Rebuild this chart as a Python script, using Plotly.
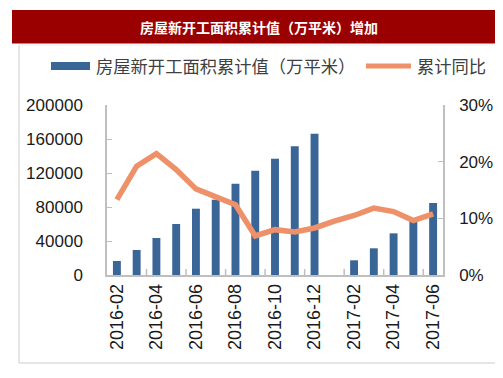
import plotly.graph_objects as go

months = ["2016-02", "2016-03", "2016-04", "2016-05", "2016-06", "2016-07", "2016-08",
          "2016-09", "2016-10", "2016-11", "2016-12", "2017-01", "2017-02", "2017-03",
          "2017-04", "2017-05", "2017-06"]
area = [16500, 29400, 43500, 60000, 78000, 88600, 107400, 122700, 136800, 151400, 166200,
        None, 17300, 31400, 49000, 63500, 84700]
yoy = [0.133, 0.192, 0.214, 0.186, 0.152, 0.139, 0.124, 0.069, 0.080, 0.076, 0.083,
       0.095, 0.105, 0.118, 0.112, 0.096, 0.108]
tick_months = months[::2]
left_ticks = [0, 40000, 80000, 120000, 160000, 200000]
right_ticks = [0, 0.1, 0.2, 0.3]

title_text = "房屋新开工面积累计值（万平米）增加"
bar_name = "房屋新开工面积累计值（万平米）"
line_name = "累计同比"

BAR = "#3A6597"
LINE = "#EE9068"
FONT = "Liberation Sans, Arial, sans-serif"
CJK = "Noto Sans CJK SC, sans-serif"

# plot area in pixels
L, R, T, B = 99, 435, 97, 267
W, H = 503, 378


def px(x):
    return (x - L) / (R - L)


def py(y):
    return (B - y) / (B - T)


fig = go.Figure()
fig.add_trace(go.Bar(x=months, y=area, name=bar_name, marker_color=BAR,
                     marker_line_width=0, width=0.4, yaxis="y"))
fig.add_trace(go.Scatter(x=months, y=yoy, name=line_name, mode="lines",
                         line=dict(color=LINE, width=5.5), yaxis="y2"))

shapes = [
    dict(type="rect", xref="paper", yref="paper", x0=px(4), x1=px(498), y0=py(35.5), y1=py(2),
         fillcolor="#9B0000", line_width=0, layer="below"),
    dict(type="line", xref="paper", yref="paper", x0=px(11), x1=px(11), y0=py(37), y1=py(355),
         line=dict(color="#DCDCDC", width=1.5)),
    dict(type="line", xref="paper", yref="paper", x0=px(11), x1=px(498), y0=py(37), y1=py(37),
         line=dict(color="#ECECEC", width=1)),
    dict(type="line", xref="paper", yref="paper", x0=px(11), x1=px(498), y0=py(355), y1=py(355),
         line=dict(color="#DCDCDC", width=1.5)),
    # legend symbols
    dict(type="rect", xref="paper", yref="paper", x0=px(43), x1=px(82), y0=py(62), y1=py(54),
         fillcolor=BAR, line_width=0),
    dict(type="line", xref="paper", yref="paper", x0=px(358), x1=px(403), y0=py(58), y1=py(58),
         line=dict(color=LINE, width=5)),
]

annotations = [
    dict(text="<b>" + title_text + "</b>", xref="paper", yref="paper", x=px(251), y=py(19),
         xanchor="center", yanchor="middle", showarrow=False,
         font=dict(family=CJK, size=14, color="white")),
    dict(text=bar_name, xref="paper", yref="paper", x=px(86), y=py(58),
         xanchor="left", yanchor="middle", showarrow=False,
         font=dict(family=CJK, size=17.3, color="#404040")),
    dict(text=line_name, xref="paper", yref="paper", x=px(407), y=py(58),
         xanchor="left", yanchor="middle", showarrow=False,
         font=dict(family=CJK, size=17.3, color="#404040")),
]

fig.update_layout(
    width=W, height=H,
    margin=dict(l=L, r=W - R, t=T, b=H - B, pad=0),
    paper_bgcolor="white", plot_bgcolor="white",
    showlegend=False,
    bargap=0.6,
    shapes=shapes,
    annotations=annotations,
    font=dict(family=FONT, size=17, color="#1a1a1a"),
    xaxis=dict(type="category", categoryorder="array", categoryarray=months,
               tickmode="array", tickvals=tick_months, ticktext=tick_months,
               tickangle=-90, showgrid=False, showline=True, linecolor="#BFBFBF", linewidth=1.5,
               ticks="", tickfont=dict(size=18), ticklabelstandoff=0),
    yaxis=dict(range=[0, 200000], tickmode="array", tickvals=left_ticks,
               ticktext=[str(v) for v in left_ticks],
               showgrid=False, zeroline=False, showline=True, linecolor="#BFBFBF", linewidth=1.5,
               ticks="inside", ticklen=5, tickcolor="#BFBFBF", tickfont=dict(size=17),
               ticklabelstandoff=19),
    yaxis2=dict(range=[0, 0.30], overlaying="y", side="right", tickmode="array",
                tickvals=right_ticks, ticktext=["0%", "10%", "20%", "30%"],
                showgrid=False, zeroline=False, showline=True, linecolor="#BFBFBF", linewidth=1.5,
                ticks="inside", ticklen=5, tickcolor="#BFBFBF", tickfont=dict(size=17),
                ticklabelstandoff=11),
)

# x-axis boundary ticks every two categories (drawn as inside ticks)
for i in range(2, len(months), 2):
    fig.add_shape(type="line", xref="x", yref="paper", x0=i - 0.5, x1=i - 0.5,
                  y0=0, y1=py(B - 6), line=dict(color="#BFBFBF", width=1.5))

fig.write_html("out.html")
